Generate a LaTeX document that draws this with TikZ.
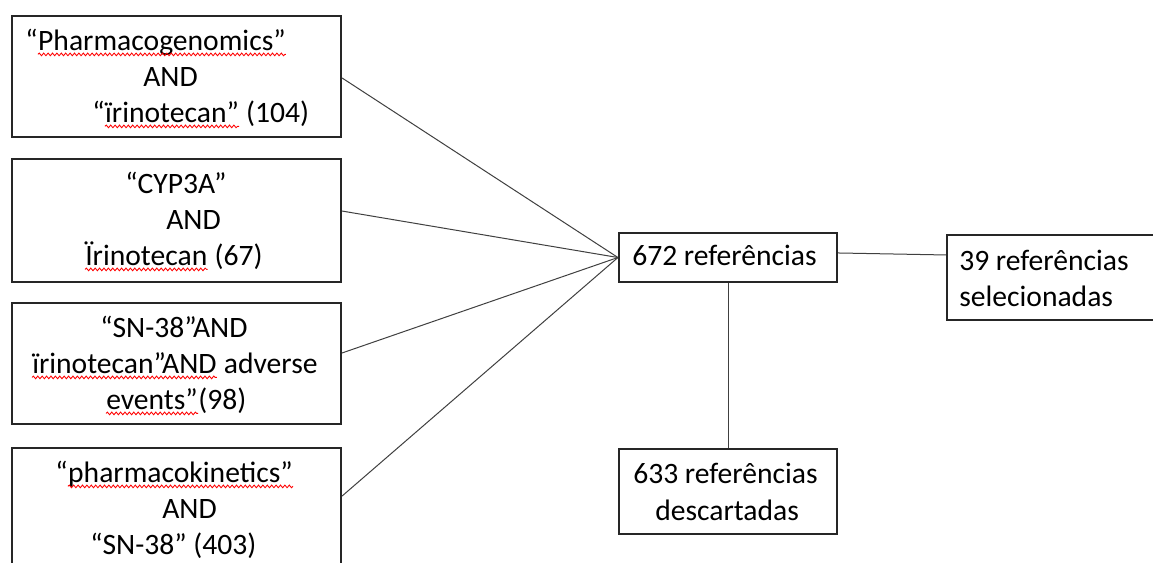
\documentclass[tikz,border=0pt]{standalone}
\usepackage{fontspec}
\setmainfont{Carlito}
\usetikzlibrary{fit,decorations.pathmorphing}
\tikzset{
  box/.style={draw=black!85, line width=1.6pt, inner sep=0pt, fill=white},
  txt/.style={anchor=base west, inner sep=0pt, text=black, font=\fontsize{22.2}{26}\selectfont},
  conn/.style={draw=black!75, line width=0.75pt},
  wavy/.style={draw=red, line width=0.65pt, decorate, decoration={snake, amplitude=1pt, segment length=3.3pt}}
}
\newcommand\wavyunder[1]{\draw[wavy] ([yshift=-3.3pt]#1.base west) -- ([yshift=-3.3pt]#1.base east);}
\begin{document}
\begin{tikzpicture}[x=0.75pt, y=-0.75pt]
\useasboundingbox[fill=white] (0,0) rectangle (1153,562);
% boxes
\node[box, fit={(12,16) (341,137)}] (b1) {};
\node[box, fit={(12,159) (341,282)}] (b2) {};
\node[box, fit={(12,303) (341,424)}] (b3) {};
\node[box, fit={(12,448) (341,571)}] (b4) {};
\node[box, fit={(619,233) (837,282)}] (r672) {};
\node[box, fit={(947,235) (1158,320)}] (r39) {};
\node[box, fit={(619,449) (837,534)}] (r633) {};
% texts box 1
\node[txt] (t11a) at (25,50) {“};
\node[txt] (t11b) at (t11a.base east) {Pharmacogenomics”};
\node[txt] (t12) at (143,86) {AND};
\node[txt] (t13a) at (92,122) {“};
\node[txt] (t13b) at (t13a.base east) {ïrinotecan”};
\node[txt] (t13c) at (t13b.base east) {\ (104)};
% box 2
\node[txt] (t21) at (125,193) {“CYP3A”};
\node[txt] (t22) at (166,229) {AND};
\node[txt] (t23a) at (85,265) {Ïrinotecan};
\node[txt] (t23b) at (t23a.base east) {\ (67)};
% box 3
\node[txt] (t31) at (100,337) {“SN-38”AND};
\node[txt] (t32a) at (32,373) {ïrinotecan”AND};
\node[txt] (t32b) at (t32a.base east) {\ adverse};
\node[txt] (t33a) at (106,409) {events”};
\node[txt] (t33b) at (t33a.base east) {(98)};
% box 4
\node[txt] (t41a) at (55,482) {“};
\node[txt] (t41b) at (t41a.base east) {pharmacokinetics”};
\node[txt] (t42) at (162,518) {AND};
\node[txt] (t43) at (90,554) {“SN-38” (403)};
% right texts
\node[txt] (t5) at (632,265) {672 referências};
\node[txt] (t61) at (959,270) {39 referências};
\node[txt] (t62) at (959,306) {selecionadas};
\node[txt] (t71) at (633,483) {633 referências};
\node[txt] (t72) at (655,520) {descartadas};
% spell-check underlines
\wavyunder{t11b}
\wavyunder{t13b}
\wavyunder{t23a}
\wavyunder{t32a}
\wavyunder{t33a}
\wavyunder{t41b}
% connectors
\draw[conn] ([yshift=-1.1pt]b1.east) -- (r672.west);
\draw[conn] ([yshift=7.1pt]b2.east) -- (r672.west);
\draw[conn] ([yshift=7.9pt]b3.east) -- (r672.west);
\draw[conn] ([yshift=10.1pt]b4.east) -- (r672.west);
\draw[conn] ([yshift=3.4pt]r672.east) -- ([yshift=16.9pt]r39.west);
\draw[conn] (r672.south) -- (r633.north);
\end{tikzpicture}
\end{document}
